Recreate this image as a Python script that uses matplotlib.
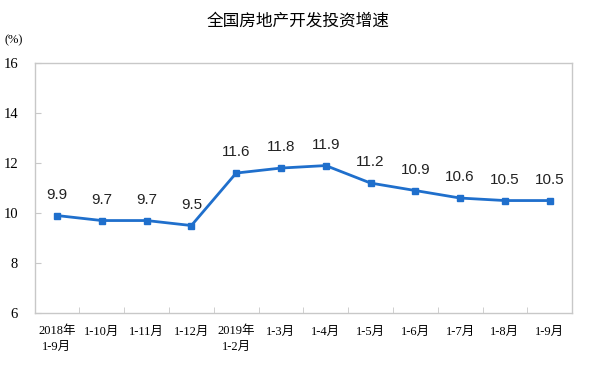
import matplotlib
matplotlib.use('Agg')
import matplotlib.pyplot as plt

plt.rcParams['font.family'] = ['Liberation Serif', 'Noto Sans CJK SC']

categories = ['2018年\n1-9月', '1-10月', '1-11月', '1-12月', '2019年\n1-2月',
              '1-3月', '1-4月', '1-5月', '1-6月', '1-7月', '1-8月', '1-9月']
growth = [9.9, 9.7, 9.7, 9.5, 11.6, 11.8, 11.9, 11.2, 10.9, 10.6, 10.5, 10.5]
yticks = [6, 8, 10, 12, 14, 16]

line_color = '#1f6fcc'
border_color = '#c8c8c8'

fig = plt.figure(figsize=(5.96, 3.78), dpi=100)
ax = fig.add_axes([0.058, 0.172, 0.902, 0.661])

x = list(range(len(categories)))
ax.plot(x, growth, color=line_color, linewidth=2, marker='s', markersize=5)

for xi, v in zip(x, growth):
    ax.annotate(f'{v}', (xi, v), xytext=(0, 10), textcoords='offset points',
                ha='center', va='bottom', fontsize=11,
                family=['Liberation Sans', 'Noto Sans CJK SC'], color='#222222')

ax.set_xlim(-0.5, len(categories) - 0.5)
ax.set_ylim(6, 16)
ax.set_yticks(yticks)
ax.set_yticklabels([str(t) for t in yticks], fontsize=10.5)
ax.set_xticks(x)
ax.set_xticklabels(categories, fontsize=9, linespacing=1.4)
ax.set_xticks([i + 0.5 for i in x[:-1]], minor=True)
ax.tick_params(axis='x', which='major', length=0, pad=9)
ax.tick_params(axis='x', which='minor', length=4, direction='in', color=border_color)
ax.tick_params(axis='y', length=4, direction='in', color=border_color, pad=12)

for s in ax.spines.values():
    s.set_color(border_color)
    s.set_linewidth(1)

fig.text(0.5, 0.945, '全国房地产开发投资增速', ha='center', va='center',
         fontsize=12, family=['Noto Sans CJK SC'])
fig.text(0.008, 0.893, '(%)', ha='left', va='center', fontsize=9)

fig.savefig('out.png', dpi=100)
